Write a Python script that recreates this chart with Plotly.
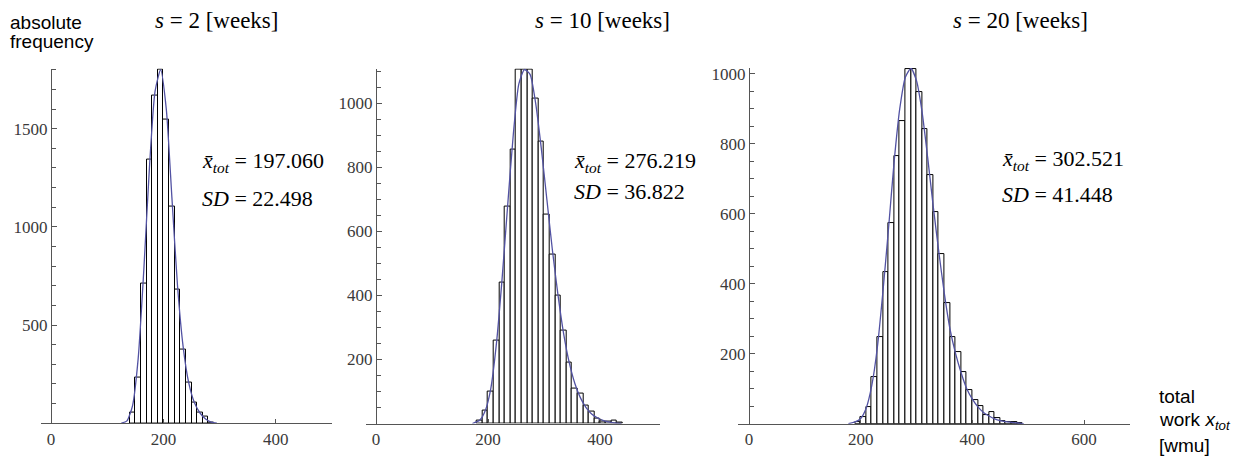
import plotly.graph_objects as go

# ---------------- data ----------------
bin_width = 10

# panel 1: s = 2 weeks (bin left edges and counts)
p1_bins = [140, 150, 160, 170, 180, 190, 200, 210, 220, 230, 240, 250, 260, 270, 280]
p1_counts = [55, 235, 711, 1342, 1668, 1800, 1544, 1105, 679, 373, 209, 103, 54, 35, 3]
p1_curve_x = [125, 135, 145, 155, 165, 175, 185, 195, 205, 215, 225, 235, 245, 255, 265, 275, 285, 295]
p1_curve_y = [0, 12, 90, 330, 780, 1300, 1690, 1800, 1600, 1150, 700, 390, 205, 105, 52, 22, 6, 0]

# panel 2: s = 10 weeks
p2_bins = [180, 190, 200, 210, 220, 230, 240, 250, 260, 270, 280, 290, 300, 310, 320,
           330, 340, 350, 360, 370, 380, 390, 400, 410, 420, 430]
p2_counts = [8, 41, 99, 259, 440, 676, 854, 1105, 1105, 1105, 1015, 880, 653, 527, 399,
             290, 190, 109, 92, 57, 38, 15, 5, 5, 8, 3]
p2_curve_x = [172, 185, 195, 205, 215, 225, 235, 245, 255, 265, 275, 285, 295, 305, 315,
              325, 335, 345, 355, 365, 375, 385, 395, 405, 415, 425, 438]
p2_curve_y = [0, 10, 40, 110, 250, 450, 680, 900, 1060, 1105, 1090, 1000, 860, 700, 540,
              400, 280, 190, 125, 80, 50, 30, 18, 10, 5, 2, 0]

# panel 3: s = 20 weeks
p3_bins = [190, 200, 210, 220, 230, 240, 250, 260, 270, 280, 290, 300, 310, 320, 330,
           340, 350, 360, 370, 380, 390, 400, 410, 420, 430, 440, 450, 460, 470, 480]
p3_counts = [5, 19, 48, 133, 248, 433, 574, 764, 866, 1014, 1014, 948, 842, 711, 606,
             485, 346, 248, 204, 147, 97, 67, 51, 24, 34, 17, 7, 6, 6, 3]
p3_curve_x = [178, 190, 200, 210, 220, 230, 240, 250, 260, 270, 280, 290, 300, 310, 320,
              330, 340, 350, 360, 370, 380, 390, 400, 410, 420, 430, 440, 450, 460, 470, 480, 492]
p3_curve_y = [0, 5, 15, 45, 110, 220, 380, 560, 750, 900, 990, 1015, 980, 890, 760,
              620, 490, 370, 270, 200, 145, 100, 70, 48, 32, 22, 14, 9, 6, 4, 2, 0]

titles = ["<i>s</i> = 2 [weeks]", "<i>s</i> = 10 [weeks]", "<i>s</i> = 20 [weeks]"]
means = ["197.060", "276.219", "302.521"]
sds = ["22.498", "36.822", "41.448"]

# ---------------- layout geometry ----------------
W, H = 1247, 457
def px(x):
    return x / W
def py(y):
    return (H - y) / H

panels = [
    dict(bins=p1_bins, counts=p1_counts, cx=p1_curve_x, cy=p1_curve_y,
         xdom=[px(41), px(332)], xr=[-18, 500], ydom=[py(423), py(66)], yr=[0, 1806],
         ypos=px(51), xt=[0, 200, 400], yt=[500, 1000, 1500], ymin=100),
    dict(bins=p2_bins, counts=p2_counts, cx=p2_curve_x, cy=p2_curve_y,
         xdom=[px(365.7), px(660)], xr=[-18.4, 507], ydom=[py(423.3), py(66)], yr=[0, 1108],
         ypos=px(376), xt=[0, 200, 400], yt=[200, 400, 600, 800, 1000], ymin=50),
    dict(bins=p3_bins, counts=p3_counts, cx=p3_curve_x, cy=p3_curve_y,
         xdom=[px(738.4), px(1129.8)], xr=[-19, 682], ydom=[py(423.5), py(65.5)], yr=[0, 1016],
         ypos=px(749), xt=[0, 200, 400, 600], yt=[200, 400, 600, 800, 1000], ymin=50),
]

axis_color = "#555555"
tick_font = dict(family="Liberation Serif", size=17, color="#3a3a3a")
curve_color = "#5252a3"

fig = go.Figure()
layout = dict(width=W, height=H, margin=dict(l=0, r=0, t=0, b=0),
              paper_bgcolor="white", plot_bgcolor="rgba(0,0,0,0)",
              showlegend=False, barmode="overlay", bargap=0)

for i, p in enumerate(panels):
    n = "" if i == 0 else str(i + 1)
    xa, ya = "x" + n, "y" + n
    centers = [b + bin_width / 2 for b in p["bins"]]
    fig.add_trace(go.Bar(x=centers, y=p["counts"], width=bin_width,
                         marker=dict(color="white", line=dict(color="black", width=1)),
                         xaxis=xa, yaxis=ya, hoverinfo="skip"))
    fig.add_trace(go.Scatter(x=p["cx"], y=p["cy"], mode="lines",
                             line=dict(color=curve_color, width=1.3, shape="spline", smoothing=0.6),
                             xaxis=xa, yaxis=ya, hoverinfo="skip"))
    layout["xaxis" + n] = dict(domain=p["xdom"], range=p["xr"], anchor=ya,
                               showline=True, linecolor=axis_color, linewidth=1.3,
                               showgrid=False, zeroline=False,
                               tickmode="array", tickvals=p["xt"], ticks="inside",
                               ticklen=4, tickcolor=axis_color, tickfont=tick_font)
    layout["yaxis" + n] = dict(domain=p["ydom"], range=p["yr"], anchor="free",
                               position=p["ypos"],
                               showline=True, linecolor=axis_color, linewidth=1.3,
                               showgrid=False, zeroline=False,
                               tickmode="array", tickvals=p["yt"], ticks="inside",
                               ticklen=5, tickcolor=axis_color, tickfont=tick_font,
                               minor=dict(dtick=p["ymin"], tick0=0, ticks="inside",
                                          ticklen=3.5, tickcolor=axis_color, showgrid=False))

fig.update_layout(**layout)

serif = "Liberation Serif"
sans = "Liberation Sans"
ann = []
title_x = [216, 602, 1020]
for t, x in zip(titles, title_x):
    ann.append(dict(text=t, x=px(x), y=py(18), xref="paper", yref="paper",
                    xanchor="center", yanchor="middle", showarrow=False,
                    font=dict(family=serif, size=23, color="black")))

stat_pos = [(200, 160, 197), (572, 160, 190), (1000, 158, 193)]
for (x, y1, y2), m, s in zip(stat_pos, means, sds):
    ann.append(dict(text="<i>x\u0304</i><sub><i>tot</i></sub> = " + m, x=px(x), y=py(y1),
                    xref="paper", yref="paper", xanchor="left", yanchor="middle",
                    showarrow=False, font=dict(family=serif, size=22, color="black")))
    ann.append(dict(text="<i>SD</i> = " + s, x=px(x), y=py(y2),
                    xref="paper", yref="paper", xanchor="left", yanchor="middle",
                    showarrow=False, font=dict(family=serif, size=22, color="black")))

for txt, y in [("absolute", 20), ("frequency", 39)]:
    ann.append(dict(text=txt, x=px(8), y=py(y), xref="paper", yref="paper",
                    xanchor="left", yanchor="middle", showarrow=False,
                    font=dict(family=sans, size=19, color="black")))
for txt, y in [("total", 396), ("work <i>x</i><sub><i>tot</i></sub>", 421), ("[wmu]", 445)]:
    ann.append(dict(text=txt, x=px(1157), y=py(y), xref="paper", yref="paper",
                    xanchor="left", yanchor="middle", showarrow=False,
                    font=dict(family=sans, size=19, color="black")))

fig.update_layout(annotations=ann)
fig.write_html("out.html", config={"displayModeBar": False},
               post_script="document.body.style.margin='0';document.body.style.overflow='hidden';")
